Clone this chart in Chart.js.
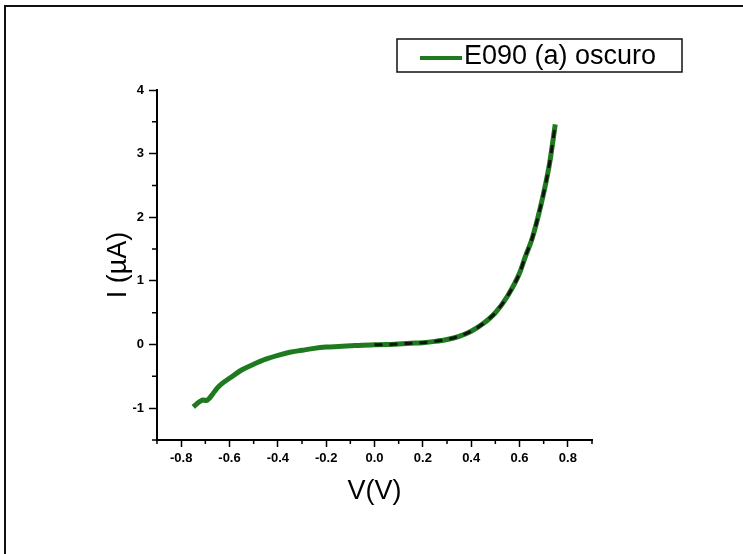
<!DOCTYPE html>
<html>
<head>
<meta charset="utf-8">
<title>E090 (a) oscuro</title>
<script src="https://cdn.jsdelivr.net/npm/chart.js@4.4.1/dist/chart.umd.min.js"></script>
<style>
  html, body { margin: 0; padding: 0; background: #fff; }
  canvas { display: block; }
</style>
</head>
<body>
<canvas id="ivChart" width="743" height="554"></canvas>
<script>
// I-V sweep in the dark, voltage in V, current in µA
const voltage = [-0.75, -0.735, -0.72, -0.71, -0.695, -0.685, -0.67, -0.65, -0.63, -0.60, -0.55, -0.50,
    -0.45, -0.40, -0.35, -0.30, -0.25, -0.20, -0.15, -0.10, -0.05, 0.00, 0.05, 0.10, 0.15, 0.20,
    0.25, 0.30, 0.35, 0.40, 0.45, 0.50, 0.55, 0.60, 0.625, 0.65, 0.675, 0.70, 0.725, 0.748];
const current = [-0.98, -0.93, -0.89, -0.87, -0.88, -0.85, -0.78, -0.68, -0.61, -0.53, -0.40, -0.31,
    -0.23, -0.17, -0.12, -0.09, -0.06, -0.04, -0.03, -0.02, -0.01, -0.005, 0.00, 0.01, 0.02, 0.03,
    0.05, 0.08, 0.13, 0.21, 0.33, 0.50, 0.76, 1.12, 1.39, 1.64, 1.98, 2.38, 2.86, 3.46];

// dashed overlay covers the forward-bias part only
const fitStart = 0.0;

const xTicks = [-0.8, -0.6, -0.4, -0.2, 0.0, 0.2, 0.4, 0.6, 0.8];
const xMinorTicks = [-0.9, -0.7, -0.5, -0.3, -0.1, 0.1, 0.3, 0.5, 0.7, 0.9];
const yTicks = [-1, 0, 1, 2, 3, 4];
const yMinorTicks = [-1.5, -0.5, 0.5, 1.5, 2.5, 3.5];

const seriesLabel = 'E090 (a) oscuro';
const green = '#1f7a1f';
const FONT = '"Liberation Sans", Arial, sans-serif';

const measured = voltage.map((v, i) => ({ x: v, y: current[i] }));
const fitted = measured.filter(p => p.x >= fitStart);

// short ticks between the labelled ones
const minorTicks = {
    id: 'minorTicks',
    afterDraw(chart) {
        const { ctx, scales: { x, y } } = chart;
        ctx.save();
        ctx.strokeStyle = '#000';
        ctx.lineWidth = 1.5;
        ctx.beginPath();
        xMinorTicks.forEach(v => {
            const px = x.getPixelForValue(v);
            ctx.moveTo(px, y.bottom);
            ctx.lineTo(px, y.bottom + 4);
        });
        yMinorTicks.forEach(v => {
            const py = y.getPixelForValue(v);
            ctx.moveTo(x.left, py);
            ctx.lineTo(x.left - 5, py);
        });
        ctx.stroke();
        ctx.restore();
    }
};

// outer frame and boxed legend
const frameAndLegend = {
    id: 'frameAndLegend',
    afterDraw(chart) {
        const { ctx } = chart;
        const ds = chart.data.datasets[0];
        ctx.save();
        ctx.strokeStyle = '#111';
        ctx.lineWidth = 2;
        ctx.beginPath();
        ctx.moveTo(5, 554);
        ctx.lineTo(5, 6);
        ctx.lineTo(743, 6);
        ctx.stroke();

        ctx.lineWidth = 1.5;
        ctx.strokeRect(397, 39, 285, 33);

        ctx.strokeStyle = ds.borderColor;
        ctx.lineWidth = 4;
        ctx.beginPath();
        ctx.moveTo(420, 58);
        ctx.lineTo(462, 58);
        ctx.stroke();

        ctx.fillStyle = '#000';
        ctx.font = '27px ' + FONT;
        ctx.textBaseline = 'middle';
        ctx.textAlign = 'left';
        ctx.fillText(ds.label, 464, 57);
        ctx.restore();
    }
};

new Chart(document.getElementById('ivChart'), {
    type: 'scatter',
    data: {
        datasets: [{
            label: seriesLabel,
            data: measured,
            showLine: true,
            borderColor: green,
            backgroundColor: green,
            borderWidth: 5,
            pointRadius: 0,
            cubicInterpolationMode: 'monotone',
            order: 1
        }, {
            label: 'fit',
            data: fitted,
            showLine: true,
            borderColor: '#111',
            borderWidth: 3,
            borderDash: [8, 7],
            pointRadius: 0,
            cubicInterpolationMode: 'monotone',
            order: 0
        }]
    },
    options: {
        responsive: false,
        animation: false,
        layout: { padding: { left: 0, right: 151, top: 90, bottom: 0 } },
        plugins: {
            legend: { display: false },
            tooltip: { enabled: false }
        },
        scales: {
            x: {
                type: 'linear',
                min: -0.9,
                max: 0.9,
                afterBuildTicks: scale => { scale.ticks = xTicks.map(v => ({ value: v })); },
                afterFit: scale => { scale.height = 114; },
                border: { display: true, color: '#000', width: 2 },
                grid: { drawOnChartArea: false, drawTicks: true, tickLength: 7, tickColor: '#000', tickWidth: 1.5 },
                ticks: {
                    color: '#000',
                    padding: 4,
                    maxRotation: 0,
                    font: { family: FONT, size: 13, weight: 'bold' },
                    callback: v => v.toFixed(1)
                },
                title: {
                    display: true,
                    text: 'V(V)',
                    color: '#000',
                    font: { family: FONT, size: 27 },
                    padding: { top: 0, bottom: 46 }
                }
            },
            y: {
                type: 'linear',
                min: -1.5,
                max: 4,
                afterBuildTicks: scale => { scale.ticks = yTicks.map(v => ({ value: v })); },
                afterFit: scale => { scale.width = 157; },
                border: { display: true, color: '#000', width: 2 },
                grid: { drawOnChartArea: false, drawTicks: true, tickLength: 8, tickColor: '#000', tickWidth: 1.5 },
                ticks: {
                    color: '#000',
                    padding: 5,
                    font: { family: FONT, size: 13, weight: 'bold' },
                    callback: v => String(v)
                },
                title: {
                    display: true,
                    text: 'I (µA)',
                    color: '#000',
                    font: { family: FONT, size: 27 },
                    padding: { top: 102, bottom: 0 }
                }
            }
        }
    },
    plugins: [minorTicks, frameAndLegend]
});
</script>
</body>
</html>
